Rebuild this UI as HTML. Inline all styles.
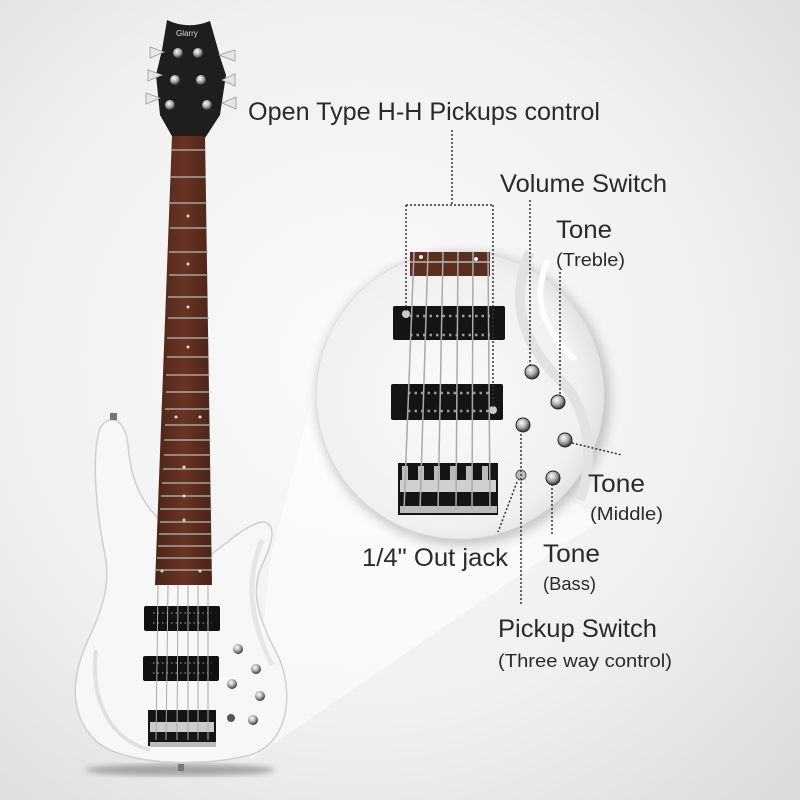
<!DOCTYPE html>
<html><head><meta charset="utf-8"><style>
html,body{margin:0;padding:0;}
body{width:800px;height:800px;overflow:hidden;}
svg{display:block;}
text{font-family:"Liberation Sans",sans-serif;fill:#2a2a2a;}
</style></head><body>
<svg width="800" height="800" viewBox="0 0 800 800" xmlns="http://www.w3.org/2000/svg">
<defs>
<radialGradient id="bg" cx="0.45" cy="0.45" r="0.75">
<stop offset="0" stop-color="#fbfbfb"/><stop offset="0.6" stop-color="#f0f0f0"/><stop offset="1" stop-color="#dcdcdc"/>
</radialGradient>
<linearGradient id="wood" x1="0" x2="1">
<stop offset="0" stop-color="#4a2418"/><stop offset="0.5" stop-color="#6a3424"/><stop offset="1" stop-color="#4a2418"/>
</linearGradient>
<radialGradient id="knob" cx="0.4" cy="0.35" r="0.7">
<stop offset="0" stop-color="#ffffff"/><stop offset="0.5" stop-color="#aaa"/><stop offset="1" stop-color="#222"/>
</radialGradient>
<radialGradient id="circ" cx="0.45" cy="0.5" r="0.55">
<stop offset="0" stop-color="#fafafa"/><stop offset="0.85" stop-color="#f0f0f0"/><stop offset="1" stop-color="#e2e2e2"/>
</radialGradient>
<filter id="blur"><feGaussianBlur stdDeviation="6"/></filter>
<filter id="blur2"><feGaussianBlur stdDeviation="3"/></filter>
</defs>
<rect width="800" height="800" fill="url(#bg)"/>
<polygon points="270,560 330,330 600,520 250,760" fill="#ffffff" opacity="0.5"/>
<ellipse cx="180" cy="770" rx="95" ry="6" fill="#888" filter="url(#blur2)" opacity="0.7"/>
<!-- body -->
<path d="M100 428 C110 412 126 420 128 445 C132 490 145 520 210 555 C225 545 245 525 262 522 C278 522 272 545 262 565 C248 595 262 625 280 660 C295 700 285 745 250 755 C200 768 120 765 95 740 C70 715 70 680 88 640 C105 605 110 580 105 555 C98 520 90 460 100 428 Z" fill="#f7f7f7" stroke="#cfcfcf" stroke-width="1.5"/>
<path d="M96 650 C90 700 110 740 150 750" fill="none" stroke="#e0e0e0" stroke-width="4"/>
<path d="M262 540 C245 580 250 620 272 665" fill="none" stroke="#e6e6e6" stroke-width="5"/>
<rect x="110" y="413" width="7" height="7" fill="#777"/>
<rect x="178" y="764" width="6" height="7" fill="#777"/>
<!-- headstock -->
<path d="M167 20 Q188 30 210 21 L221 60 L226 75 L220 115 L205 138 L173 138 L160 115 L156 75 L162 50 Z" fill="#1e1e1e"/>
<text x="176" y="36" font-size="8" style="fill:#ddd">Glarry</text>
<g fill="#e6e6e6" stroke="#999" stroke-width="0.8">
<path d="M150 47 L164 52 L150 58 Z"/><path d="M148 70 L162 75 L148 81 Z"/><path d="M146 93 L160 98 L146 104 Z"/>
<path d="M235 50 L219 55 L235 61 Z"/><path d="M235 74 L222 80 L235 86 Z"/><path d="M236 97 L222 103 L236 109 Z"/>
</g>
<g fill="url(#knob)"><circle cx="178" cy="53" r="5"/><circle cx="198" cy="53" r="5"/><circle cx="175" cy="80" r="5"/><circle cx="201" cy="80" r="5"/><circle cx="170" cy="105" r="5"/><circle cx="207" cy="105" r="5"/></g>
<!-- neck -->
<path d="M172 136 L205 136 L212 585 L155 585 Z" fill="url(#wood)"/>
<g stroke="#b8b8b8" stroke-width="1.2">
<line x1="171" y1="150" x2="206" y2="150"/><line x1="171" y1="177" x2="206" y2="177"/><line x1="170" y1="203" x2="207" y2="203"/><line x1="170" y1="228" x2="207" y2="228"/><line x1="169" y1="252" x2="208" y2="252"/><line x1="169" y1="275" x2="208" y2="275"/><line x1="168" y1="297" x2="208" y2="297"/><line x1="168" y1="318" x2="209" y2="318"/><line x1="167" y1="338" x2="209" y2="338"/><line x1="167" y1="357" x2="209" y2="357"/><line x1="166" y1="375" x2="210" y2="375"/><line x1="166" y1="392" x2="210" y2="392"/><line x1="165" y1="409" x2="210" y2="409"/><line x1="165" y1="425" x2="210" y2="425"/><line x1="164" y1="440" x2="211" y2="440"/><line x1="164" y1="455" x2="211" y2="455"/><line x1="163" y1="469" x2="211" y2="469"/><line x1="162" y1="483" x2="211" y2="483"/><line x1="161" y1="496" x2="211" y2="496"/><line x1="160" y1="509" x2="212" y2="509"/><line x1="160" y1="522" x2="212" y2="522"/><line x1="159" y1="534" x2="212" y2="534"/><line x1="158" y1="546" x2="212" y2="546"/><line x1="157" y1="558" x2="212" y2="558"/><line x1="156" y1="570" x2="212" y2="570"/>
</g>
<g fill="#ddd"><circle cx="188" cy="216" r="1.5"/><circle cx="188" cy="264" r="1.5"/><circle cx="188" cy="307" r="1.5"/><circle cx="188" cy="347" r="1.5"/><circle cx="176" cy="417" r="1.5"/><circle cx="200" cy="417" r="1.5"/><circle cx="184" cy="467" r="1.5"/><circle cx="184" cy="496" r="1.5"/><circle cx="184" cy="520" r="1.5"/><circle cx="162" cy="571" r="1.5"/><circle cx="200" cy="571" r="1.5"/></g>
<rect x="144" y="606" width="76" height="25" rx="2" fill="#111"/>
<rect x="143" y="656" width="76" height="25" rx="2" fill="#111"/>
<g stroke="#777" stroke-width="1.5" stroke-dasharray="1.5 3"><line x1="153" y1="613" x2="212" y2="613"/><line x1="153" y1="623" x2="212" y2="623"/><line x1="153" y1="663" x2="212" y2="663"/><line x1="153" y1="673" x2="212" y2="673"/></g>
<rect x="148" y="710" width="68" height="36" fill="#151515"/>
<rect x="150" y="722" width="64" height="10" fill="#ccc"/>
<rect x="150" y="742" width="66" height="5" fill="#bbb"/>
<g stroke="#aaa" stroke-width="1"><line x1="158" y1="585" x2="156" y2="740"/><line x1="168" y1="585" x2="166" y2="740"/><line x1="178" y1="585" x2="177" y2="740"/><line x1="188" y1="585" x2="188" y2="740"/><line x1="198" y1="585" x2="198" y2="740"/><line x1="208" y1="585" x2="208" y2="740"/></g>
<g fill="url(#knob)"><circle cx="238" cy="649" r="5"/><circle cx="256" cy="669" r="5"/><circle cx="232" cy="684" r="5"/><circle cx="260" cy="696" r="5"/><circle cx="253" cy="720" r="5"/></g>
<circle cx="231" cy="718" r="4" fill="#555"/>
<!-- zoom circle -->
<circle cx="463" cy="399" r="146" fill="#000" opacity="0.22" filter="url(#blur)"/>
<circle cx="460" cy="395" r="144" fill="url(#circ)" stroke="#dcdcdc" stroke-width="1"/>
<path d="M530 252 C510 300 520 340 560 380 C590 410 595 460 580 500" fill="none" stroke="#e2e2e2" stroke-width="10"/>
<path d="M548 260 C530 300 545 330 575 360" fill="none" stroke="#fff" stroke-width="6"/>
<rect x="410" y="252" width="80" height="24" fill="#5c2e20"/>
<line x1="410" y1="262" x2="490" y2="262" stroke="#bbb" stroke-width="1.5"/>
<circle cx="421" cy="257" r="2" fill="#eee"/><circle cx="476" cy="259" r="2" fill="#eee"/>
<rect x="393" y="306" width="112" height="34" rx="2" fill="#141414"/>
<rect x="391" y="384" width="112" height="36" rx="2" fill="#141414"/>
<g stroke="#999" stroke-width="2.5" stroke-dasharray="2.5 4"><line x1="410" y1="316" x2="490" y2="316"/><line x1="410" y1="335" x2="490" y2="335"/><line x1="408" y1="393" x2="490" y2="393"/><line x1="408" y1="411" x2="490" y2="411"/></g>
<circle cx="406" cy="314" r="4" fill="#ccc"/><circle cx="493" cy="410" r="4" fill="#ccc"/>
<rect x="398" y="463" width="100" height="52" fill="#151515"/>
<g fill="#bbb"><rect x="402" y="466" width="6" height="20"/><rect x="418" y="466" width="6" height="20"/><rect x="434" y="466" width="6" height="20"/><rect x="450" y="466" width="6" height="20"/><rect x="466" y="466" width="6" height="20"/><rect x="482" y="466" width="6" height="20"/></g>
<rect x="400" y="480" width="96" height="12" fill="#d0d0d0"/>
<rect x="400" y="506" width="97" height="7" fill="#bbb"/>
<g stroke="#aaa" stroke-width="1.5"><line x1="414" y1="252" x2="404" y2="510"/><line x1="428" y1="252" x2="420" y2="510"/><line x1="443" y1="252" x2="438" y2="510"/><line x1="458" y1="252" x2="456" y2="510"/><line x1="473" y1="252" x2="472" y2="510"/><line x1="488" y1="252" x2="490" y2="510"/></g>
<g fill="url(#knob)" stroke="#222" stroke-width="1"><circle cx="532" cy="372" r="7"/><circle cx="558" cy="402" r="7"/><circle cx="523" cy="425" r="7"/><circle cx="565" cy="440" r="7"/><circle cx="553" cy="478" r="7"/></g>
<circle cx="521" cy="475" r="5" fill="#bbb" stroke="#555"/>
<g fill="none" stroke="#333" stroke-width="1.5" stroke-dasharray="2 2">
<path d="M452 130 V205 M406 205 H493 M406 205 V312 M493 205 V408"/>
<path d="M530 200 V366"/><path d="M560 272 V396"/><path d="M572 443 L622 455"/><path d="M552 484 V535"/><path d="M517 482 L498 532"/><path d="M521 430 V605"/>
</g>
<text x="248" y="120" font-size="25" textLength="352" lengthAdjust="spacingAndGlyphs">Open Type H-H Pickups control</text>
<text x="500" y="192" font-size="25" textLength="167" lengthAdjust="spacingAndGlyphs">Volume Switch</text>
<text x="556" y="238" font-size="25" textLength="56" lengthAdjust="spacingAndGlyphs">Tone</text>
<text x="556" y="266" font-size="18" textLength="69" lengthAdjust="spacingAndGlyphs">(Treble)</text>
<text x="588" y="492" font-size="25" textLength="57" lengthAdjust="spacingAndGlyphs">Tone</text>
<text x="590" y="520" font-size="18" textLength="73" lengthAdjust="spacingAndGlyphs">(Middle)</text>
<text x="362" y="566" font-size="25" textLength="146" lengthAdjust="spacingAndGlyphs">1/4" Out jack</text>
<text x="543" y="562" font-size="25" textLength="57" lengthAdjust="spacingAndGlyphs">Tone</text>
<text x="543" y="590" font-size="18" textLength="53" lengthAdjust="spacingAndGlyphs">(Bass)</text>
<text x="498" y="637" font-size="25" textLength="159" lengthAdjust="spacingAndGlyphs">Pickup Switch</text>
<text x="498" y="667" font-size="18" textLength="174" lengthAdjust="spacingAndGlyphs">(Three way control)</text>
</svg>
</body></html>
